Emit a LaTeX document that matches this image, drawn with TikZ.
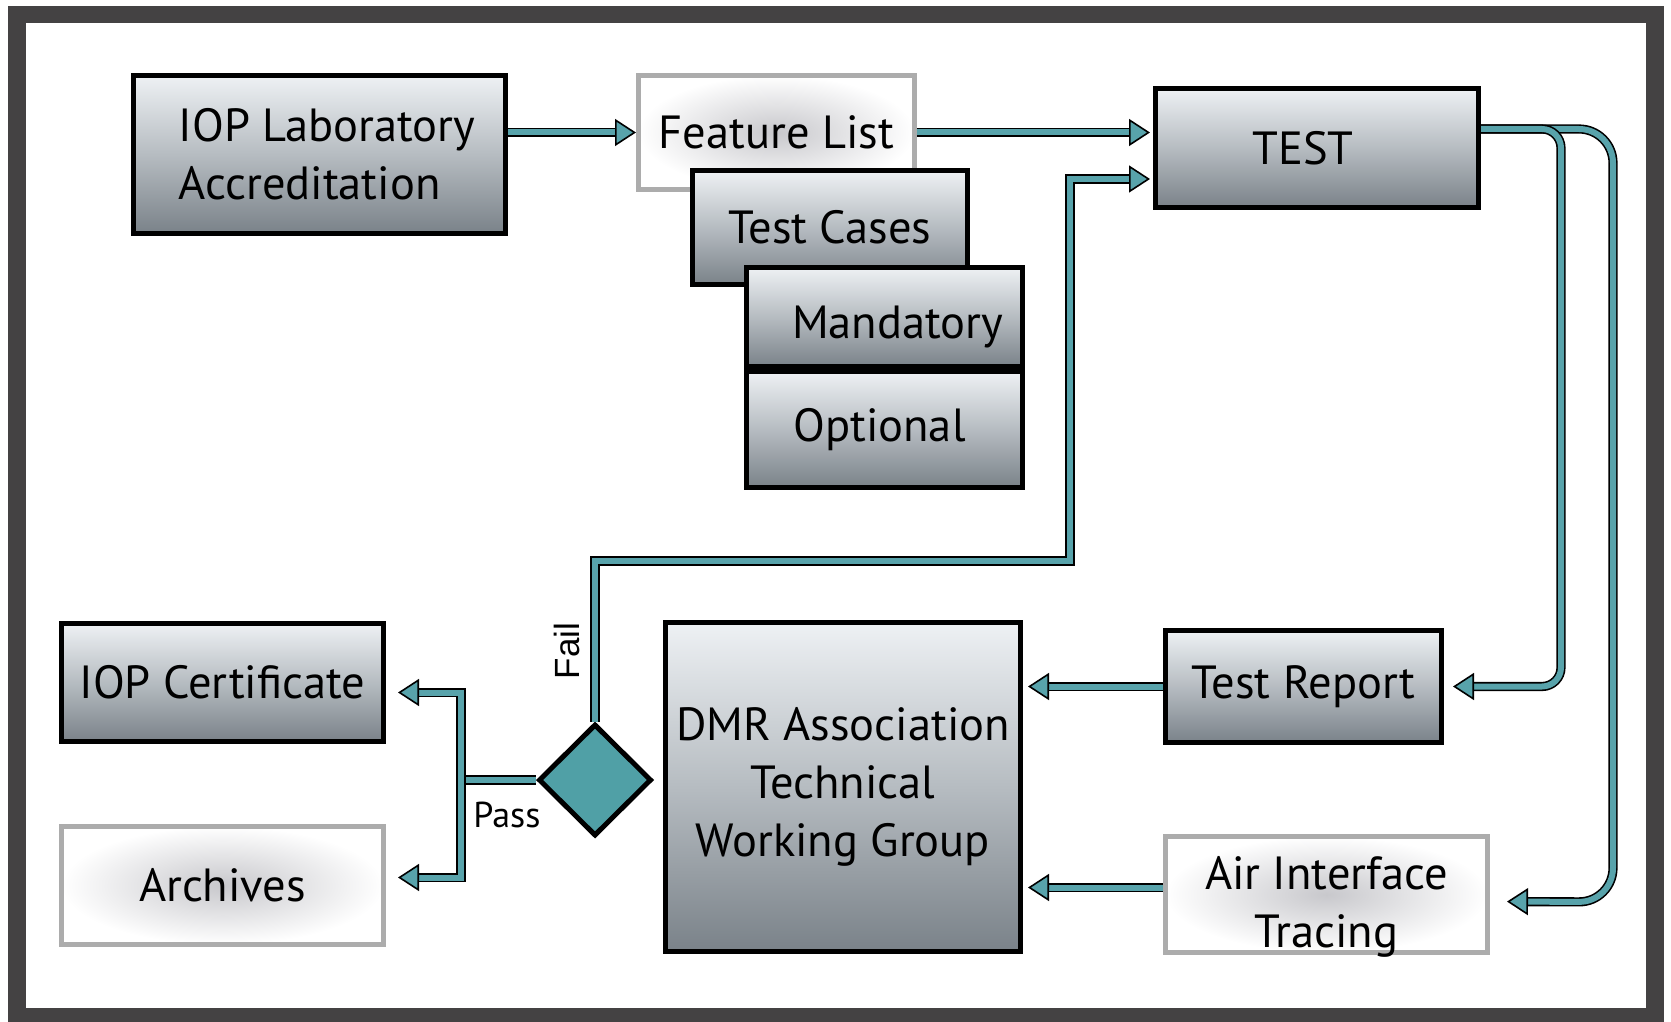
\documentclass[tikz,border=0pt]{standalone}
\usepackage{fontspec}
\setmainfont{PT Sans}
\newfontfamily\labelfont{Liberation Sans}
\usepackage{xcolor}
\usepackage{tikz}
\usetikzlibrary{arrows.meta,shapes.geometric,positioning}
\definecolor{framegray}{RGB}{68,66,67}
\definecolor{flowteal}{RGB}{88,163,171}
\definecolor{decteal}{RGB}{80,160,166}
\definecolor{gtop}{RGB}{238,241,244}
\definecolor{gmid}{RGB}{182,188,193}
\definecolor{gbot}{RGB}{122,130,137}
\definecolor{edgegray}{RGB}{172,172,172}
\definecolor{glow}{RGB}{200,200,204}
\tikzset{
  >={Triangle[length=21pt,width=27pt,fill=flowteal,line width=1.6pt]},
  darkbox/.style={draw=black, line width=5pt, top color=gtop, bottom color=gbot, middle color=gmid,
    font=\fontsize{46.5}{58}\selectfont, align=center, inner sep=0pt},
  lightbox/.style={draw=edgegray, line width=5pt, inner color=glow, outer color=white,
    font=\fontsize{46.5}{58}\selectfont, align=center, inner sep=0pt},
  decision/.style={draw=black, line width=5pt, fill=decteal, diamond, inner sep=0pt,
    minimum width=113pt, minimum height=112pt},
  pipe/.style={draw=black, line width=1.6pt, double=flowteal, double distance=6pt, ->}
}

\begin{document}
\begin{tikzpicture}[x=1pt, y=-1pt]
  \useasboundingbox (0,0) rectangle (1671,1022);
  % frame
  \fill[framegray] (8,6) rectangle (1664,1022);
  \fill[white] (26,23) rectangle (1646,1008);

  \node[darkbox, align=left, minimum width=372pt, minimum height=158pt] (lab) at (319.5,154.5)
    {\hspace*{15pt}IOP Laboratory\\\hspace*{15pt}Accreditation};
  \node[lightbox, minimum width=276pt, minimum height=114pt] (feat) at (776.5,132.5) {Feature List};
  \node[darkbox, minimum width=323pt, minimum height=119pt] (test) at (1317,148) {TEST\hspace*{28pt}};
  \node[darkbox, minimum width=275pt, minimum height=114pt] (cases) at (830,227.5) {Test Cases};
  \node[darkbox, minimum width=276pt, minimum height=99pt] (mand) at (884.5,317)
    {\hspace*{26pt}\raisebox{-10pt}[\height][\depth]{Mandatory}};
  \node[darkbox, minimum width=276pt, minimum height=116pt] (opt) [below=0pt of mand] {Optional\hspace*{10pt}};

  \node[darkbox, minimum width=322pt, minimum height=118pt] (cert) at (222.5,682.5) {IOP Certificate};
  \node[lightbox, minimum width=322pt, minimum height=118pt] (arch) at (222.5,885.5) {Archives};
  \node[decision] (dia) at (595,780) {};
  \node[darkbox, minimum width=355pt, minimum height=329pt] (dmr) at (843,787) {DMR Association\\Technical\\Working Group};
  \node[darkbox, minimum width=276pt, minimum height=112pt] (rep) at (1303.5,686.5) {Test Report};
  \node[lightbox, minimum width=322pt, minimum height=116pt] (air) at (1326.5,894.5)
    {\raisebox{-12pt}[\height][\depth]{\begin{tabular}{@{}c@{}}Air Interface\\Tracing\end{tabular}}};

  \node[rotate=90, font=\labelfont\fontsize{35}{40}\selectfont] (faillbl) at (567,651) {Fail};
  \node[font=\fontsize{36}{40}\selectfont] (passlbl) at (507,815) {Pass};

  \coordinate (split) at (461,780);

  \draw[pipe] (lab.east |- feat.west) -- (feat.west);
  \draw[pipe, shorten >=3pt] (feat.east) -- (test.west |- feat.east);
  \draw[pipe, shorten >=3pt] (dia.north) |- (1070,561) |- ([yshift=-31pt]test.west);
  \draw[pipe, rounded corners=34pt, shorten >=17pt] ([yshift=19pt]test.east) -| (1613,902) -- ([yshift=-7pt]air.east);
  \draw[pipe, rounded corners=19pt, shorten >=9pt] ([yshift=19pt]test.east) -| (1561,686.5) -- (rep.east);
  \draw[pipe, shorten >=5pt] (rep.west) -- (rep.west -| dmr.east);
  \draw[pipe, shorten >=5pt] ([yshift=7pt]air.west) -- ([yshift=7pt]air.west -| dmr.east);
  \draw[pipe, -] (dia.west) -- (split);
  \draw[pipe, <->, shorten <=12pt, shorten >=12pt] ([yshift=-10pt]cert.east) -| (split) |- ([yshift=8pt]arch.east);
\end{tikzpicture}
\end{document}
